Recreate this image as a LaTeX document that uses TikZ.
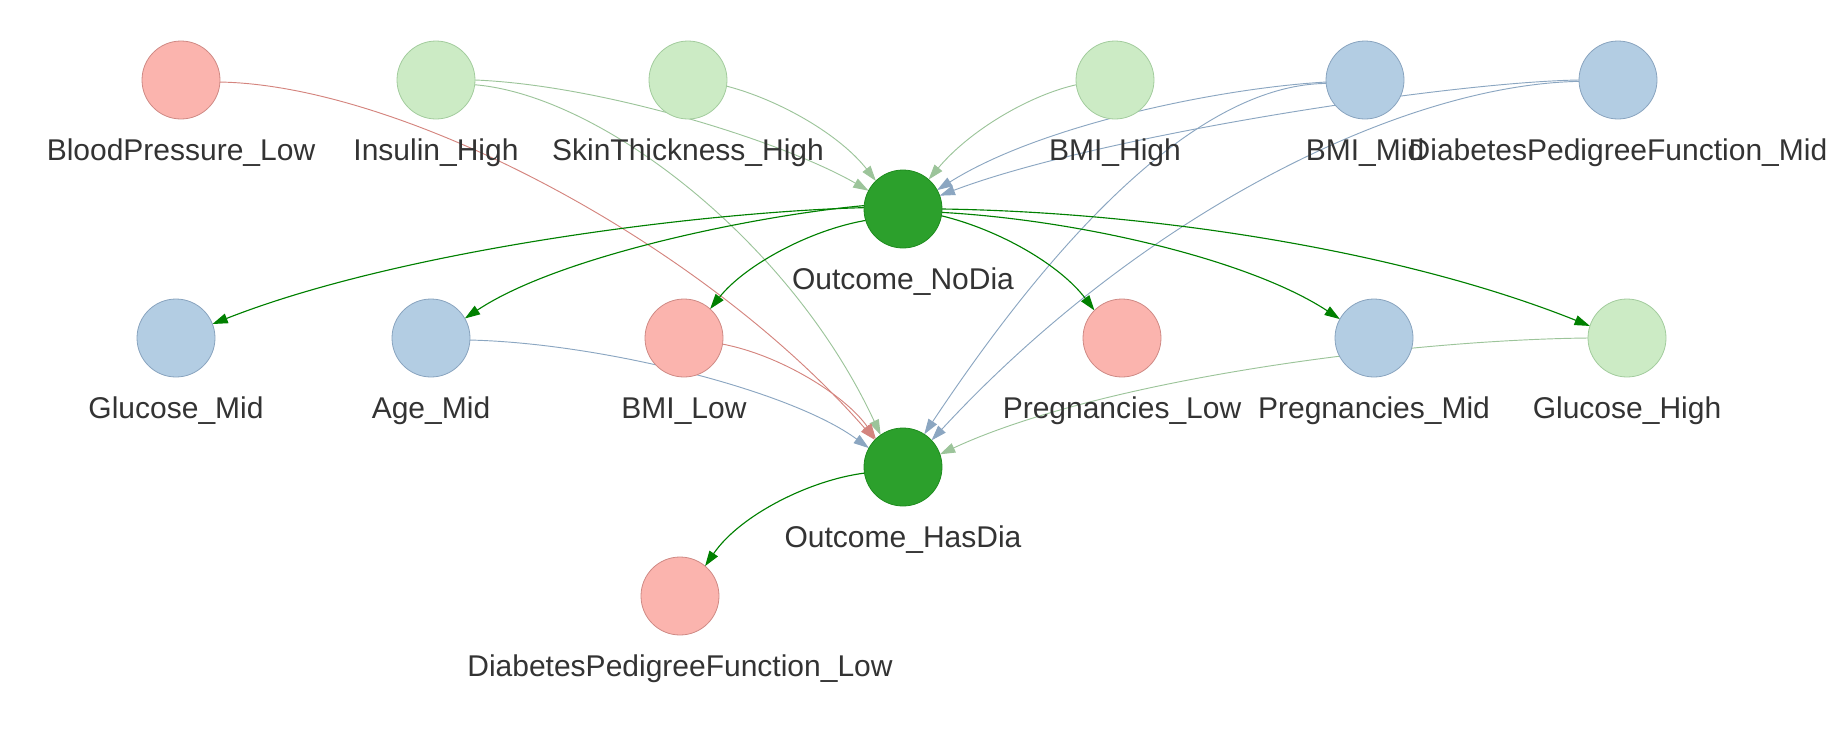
\documentclass[tikz,border=0pt]{standalone}
\usepackage{fontspec}
\setmainfont{Liberation Sans}
\usetikzlibrary{arrows.meta,backgrounds}
\definecolor{redF}{HTML}{FBB4AE}
\definecolor{redD}{HTML}{CF8A85}
\definecolor{grnF}{HTML}{CCEBC5}
\definecolor{grnD}{HTML}{A3CC9E}
\definecolor{bluF}{HTML}{B3CDE3}
\definecolor{bluD}{HTML}{89A4BF}
\definecolor{dgF}{HTML}{2CA02C}
\definecolor{dgD}{HTML}{1E8C1E}
\definecolor{edR}{HTML}{D4847E}
\definecolor{edG}{HTML}{9CC49A}
\definecolor{edB}{HTML}{8BA6C1}
\definecolor{edD}{HTML}{008000}
\definecolor{txt}{HTML}{333333}
\begin{document}
\begin{tikzpicture}[x=0.75pt,y=-0.75pt,
  nd/.style={circle,minimum size=58.5pt,inner sep=0pt,outer sep=0pt,line width=0.6pt},
  rednd/.style={nd,fill=redF,draw=redD},
  grnnd/.style={nd,fill=grnF,draw=grnD},
  blund/.style={nd,fill=bluF,draw=bluD},
  dgnd/.style={nd,fill=dgF,draw=dgD},
  lbl/.style={anchor=base,text=txt,font=\fontsize{22.5}{27}\selectfont,inner sep=0pt},
  edgebase/.style={line width=0.7pt,-{Triangle[length=11.5pt,width=7.5pt]}},
  er/.style={edgebase,draw=edR},
  eg/.style={edgebase,draw=edG},
  eb/.style={edgebase,draw=edB},
  ed/.style={edgebase,draw=edD,line width=0.85pt}]
\useasboundingbox (0,0) rectangle (1846,747);

% nodes
\node[rednd] (bpl)   at (181,80) {};
\node[grnnd] (insh)  at (436,80) {};
\node[grnnd] (skin)  at (688,80) {};
\node[grnnd] (bmih)  at (1115,80) {};
\node[blund] (bmim)  at (1365,80) {};
\node[blund] (dpfm)  at (1618,80) {};
\node[dgnd]  (nodia) at (903,209) {};
\node[blund] (glum)  at (176,338) {};
\node[blund] (agem)  at (431,338) {};
\node[rednd] (bmil)  at (684,338) {};
\node[rednd] (pregl) at (1122,338) {};
\node[blund] (pregm) at (1374,338) {};
\node[grnnd] (gluh)  at (1627,338) {};
\node[dgnd]  (hasdia) at (903,467) {};
\node[rednd] (dpfl)  at (680,596) {};

% labels
\node[lbl] (bpl-l)   at (181,160) {BloodPressure\_Low};
\node[lbl] (insh-l)  at (436,160) {Insulin\_High};
\node[lbl] (skin-l)  at (688,160) {SkinThickness\_High};
\node[lbl] (bmih-l)  at (1115,160) {BMI\_High};
\node[lbl] (bmim-l)  at (1365,160) {BMI\_Mid};
\node[lbl] (dpfm-l)  at (1618,160) {DiabetesPedigreeFunction\_Mid};
\node[lbl] (nodia-l) at (903,289) {Outcome\_NoDia};
\node[lbl] (glum-l)  at (176,418) {Glucose\_Mid};
\node[lbl] (agem-l)  at (431,418) {Age\_Mid};
\node[lbl] (bmil-l)  at (684,418) {BMI\_Low};
\node[lbl] (pregl-l) at (1122,418) {Pregnancies\_Low};
\node[lbl] (pregm-l) at (1374,418) {Pregnancies\_Mid};
\node[lbl] (gluh-l)  at (1627,418) {Glucose\_High};
\node[lbl] (hasdia-l) at (903,547) {Outcome\_HasDia};
\node[lbl] (dpfl-l)  at (680,676) {DiabetesPedigreeFunction\_Low};

\begin{pgfonlayer}{background}
\draw[er] (bpl.357) .. controls (400,85) and (700,240) .. (hasdia.136);
\draw[eg] (insh.0) .. controls (600,85) and (780,140) .. (nodia.152);
\draw[eg] (insh.353) .. controls (600,95) and (790,240) .. (hasdia.125);
\draw[eg] (skin.351) .. controls (780,100) and (840,135) .. (nodia.134);
\draw[eg] (bmih.187) .. controls (1030,95) and (970,130) .. (nodia.49);
\draw[eb] (bmim.183) .. controls (1220,88) and (1040,125) .. (nodia.29);
\draw[eb] (dpfm.180) .. controls (1450,82) and (1100,135) .. (nodia.20);
\draw[eb] (bmim.185) .. controls (1200,85) and (1060,230) .. (hasdia.57);
\draw[eb] (dpfm.182) .. controls (1400,85) and (1140,215) .. (hasdia.43);
\draw[ed] (nodia.178) .. controls (700,212) and (400,250) .. (glum.21);
\draw[ed] (nodia.175) .. controls (760,215) and (560,255) .. (agem.30);
\draw[ed] (nodia.197) .. controls (810,230) and (745,265) .. (bmil.48);
\draw[ed] (nodia.350) .. controls (1000,230) and (1060,265) .. (pregl.135);
\draw[ed] (nodia.355) .. controls (1080,220) and (1250,260) .. (pregm.151);
\draw[ed] (nodia.0) .. controls (1150,212) and (1400,250) .. (gluh.162);
\draw[eb] (agem.357) .. controls (600,343) and (790,390) .. (hasdia.151);
\draw[er] (bmil.351) .. controls (780,355) and (845,395) .. (hasdia.134);
\draw[eg] (gluh.180) .. controls (1400,340) and (1100,380) .. (hasdia.19);
\draw[ed] (hasdia.189) .. controls (810,480) and (740,515) .. (dpfl.50);
\end{pgfonlayer}
\end{tikzpicture}
\end{document}
